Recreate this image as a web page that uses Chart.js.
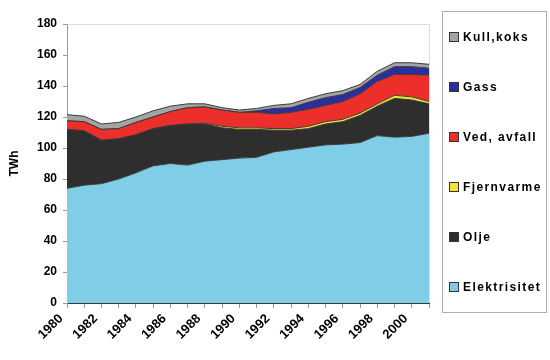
<!DOCTYPE html>
<html>
<head>
<meta charset="utf-8">
<script src="https://cdn.jsdelivr.net/npm/chart.js@4.4.0/dist/chart.umd.min.js"></script>
<style>
  body { margin: 0; background: #fff; }
  #wrap { position: relative; width: 550px; height: 360px; }
  #legend {
    position: absolute; left: 442px; top: 11px; width: 105px; height: 302px;
    border: 1px solid #b0b0b0; box-sizing: border-box;
    font-family: "Liberation Sans", Arial, sans-serif; font-weight: bold;
    font-size: 12px; letter-spacing: 1.4px; color: #000;
  }
  .item { position: absolute; left: 6px; height: 14px; line-height: 14px; white-space: nowrap; }
  .item span.box {
    display: inline-block; width: 8px; height: 8px; border: 1px solid #333;
    margin-right: 4px; vertical-align: -1px;
  }
</style>
</head>
<body>
<div id="wrap">
  <canvas id="chart" width="550" height="360"></canvas>
  <div id="legend"></div>
</div>
<script>
// Data, TWh per year
const years = ['1980','1981','1982','1983','1984','1985','1986','1987','1988','1989','1990',
               '1991','1992','1993','1994','1995','1996','1997','1998','1999','2000','2001'];
const elektrisitet = [74, 76, 77, 80, 84, 88.5, 90, 89, 91.5, 92.5, 93.5, 94, 97.5, 99, 100.5, 102, 102.5, 103.5, 108, 107, 107.5, 109.5];
const olje         = [38, 35, 28, 26, 24.5, 24, 24.5, 26.5, 24, 20.5, 18.5, 18, 14, 12.5, 12, 13.5, 14.5, 17.5, 19, 25, 23.5, 19];
const fjernvarme   = [0, 0, 0, 0, 0, 0, 0, 0, 0.5, 1, 1, 1, 1, 1, 1.5, 1.5, 1.5, 1.5, 1.5, 2, 2, 1.5];
const vedAvfall    = [5.5, 6, 7, 6.5, 8, 7.5, 9, 10.5, 10.5, 10.5, 10, 10, 9.5, 10.5, 11, 10.5, 11.5, 12.5, 14.5, 13.5, 14.5, 17];
const gass         = [0, 0, 0, 0, 0, 0, 0, 0, 0, 0, 0, 1, 3.5, 3, 4.5, 5, 4.5, 4, 4, 5, 5, 4.5];
const kullKoks     = [4, 3.5, 3.5, 4, 3.5, 4, 3.5, 2.5, 2, 1.5, 1.5, 1.5, 2, 2.5, 2.5, 2.5, 2.5, 2, 2.5, 2.5, 2.5, 2.5];
const yTicks = [0, 20, 40, 60, 80, 100, 120, 140, 160, 180];

const series = [
  { label: 'Elektrisitet', data: elektrisitet, color: '#7fcde6' },
  { label: 'Olje',         data: olje,         color: '#2e2e2e' },
  { label: 'Fjernvarme',   data: fjernvarme,   color: '#f2e23a' },
  { label: 'Ved, avfall',  data: vedAvfall,    color: '#ec2f2a' },
  { label: 'Gass',         data: gass,         color: '#2b2f9e' },
  { label: 'Kull,koks',    data: kullKoks,     color: '#a4a4a4' }
];

const font = { family: '"Liberation Sans", Arial, sans-serif', size: 12, weight: 'bold' };
const xFont = { family: '"Liberation Sans", Arial, sans-serif', size: 13, weight: 'bold' };

// dotted border round the plot area
const plotBorder = {
  id: 'plotBorder',
  afterDraw(chart) {
    const a = chart.chartArea, ctx = chart.ctx;
    ctx.save();
    ctx.strokeStyle = '#bdbdbd';
    ctx.lineWidth = 1;
    ctx.setLineDash([1, 1]);
    ctx.beginPath();
    ctx.moveTo(a.left + 0.5, a.top + 0.5);
    ctx.lineTo(a.right + 0.5, a.top + 0.5);
    ctx.lineTo(a.right + 0.5, a.bottom);
    ctx.stroke();
    ctx.restore();
  }
};

new Chart(document.getElementById('chart'), {
  type: 'line',
  data: {
    labels: years,
    datasets: series.map((s, i) => ({
      label: s.label,
      data: s.data,
      backgroundColor: s.color,
      borderColor: '#3a3a3a',
      borderWidth: 1,
      pointRadius: 0,
      tension: 0,
      fill: i === 0 ? 'origin' : '-1'
    }))
  },
  options: {
    responsive: false,
    animation: false,
    layout: { padding: { top: 24, right: 121, left: 0, bottom: 0 } },
    plugins: { legend: { display: false }, tooltip: { enabled: false } },
    scales: {
      x: {
        offset: false,
        grid: { drawOnChartArea: false, tickLength: 5, color: '#9a9a9a' },
        border: { color: '#3a3a3a' },
        ticks: {
          autoSkip: false, maxRotation: 45, minRotation: 45, color: '#000', font: xFont,
          padding: 3, labelOffset: -6,
          callback: (v, i) => (i % 2 === 0 ? years[i] : '')
        },
        afterFit(scale) { scale.height = 57; }
      },
      y: {
        stacked: true,
        min: 0, max: 180,
        afterBuildTicks(scale) { scale.ticks = yTicks.map(v => ({ value: v })); },
        grid: { drawOnChartArea: false, tickLength: 4, color: '#9a9a9a' },
        border: { color: '#9a9a9a' },
        ticks: { color: '#000', font: font, padding: 6 },
        title: { display: true, text: 'TWh', color: '#000', font: font, padding: { top: 7, bottom: 4 } },
        afterFit(scale) { scale.width = 67; }
      }
    }
  },
  plugins: [plotBorder]
});

// legend, top to bottom in reverse stacking order
const legend = document.getElementById('legend');
series.slice().reverse().forEach((s, i) => {
  const el = document.createElement('div');
  el.className = 'item';
  el.style.top = (18 + i * 50) + 'px';
  el.innerHTML = '<span class="box" style="background:' + s.color + '"></span>' + s.label;
  legend.appendChild(el);
});
</script>
</body>
</html>
